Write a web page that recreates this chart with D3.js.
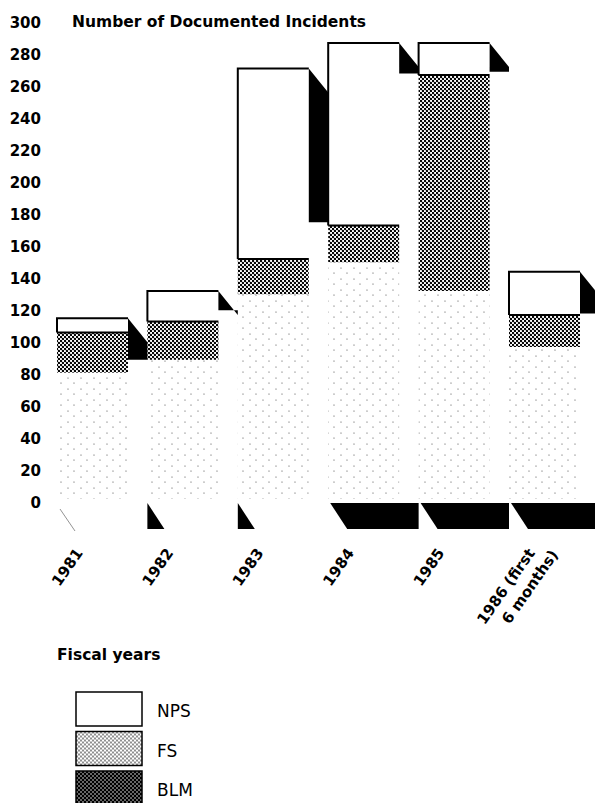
<!DOCTYPE html>
<html>
<head>
<meta charset="utf-8">
<script src="https://cdn.jsdelivr.net/npm/d3@7"></script>
<style>
  body { margin: 0; background: #fff; }
  svg { display: block; }
</style>
</head>
<body>
<div id="chart"></div>
<script>
// values
const years = ["1981", "1982", "1983", "1984", "1985", "1986 (first 6 months)"];
const yearLabels = [["1981"], ["1982"], ["1983"], ["1984"], ["1985"], ["1986 (first", "6 months)"]];
const blm = [79, 87, 128, 148, 130, 95];
const fs  = [25, 24, 22, 23, 135, 20];
const nps = [9, 19, 119, 114, 20, 27];
const sideLow = [87, 118, 173, 266, 267, 116]; // where the black side shading stops
const agencies = ["NPS", "FS", "BLM"];
const yTicks = d3.range(0, 301, 20);

const width = 595, height = 803;
const font = "'DejaVu Sans', sans-serif";

const svg = d3.select("#chart").append("svg")
   .attr("width", width).attr("height", height);

// patterns
const defs = svg.append("defs");
function dotPattern(id, size, bg, dots, r, col) {
   const p = defs.append("pattern").attr("id", id)
      .attr("patternUnits", "userSpaceOnUse").attr("width", size[0]).attr("height", size[1]);
   p.append("rect").attr("width", size[0]).attr("height", size[1]).attr("fill", bg);
   dots.forEach(d => p.append("circle").attr("cx", d[0]).attr("cy", d[1]).attr("r", r).attr("fill", col));
}
dotPattern("band", [4, 4], "#fff", [[1, 1], [3, 3]], 1.2, "#000");
dotPattern("fsLegend", [4, 4], "#fff", [[1, 1], [3, 3]], 0.8, "#000");
dotPattern("blmLegend", [4, 4], "#000", [[1, 1], [3, 3]], 0.75, "#fff");
dotPattern("faded", [13, 11], "#fff", [[3, 4], [9, 9]], 0.6, "#444");

const rows = years.map((yr, i) => ({ year: yr, BLM: blm[i], FS: fs[i], NPS: nps[i], side: sideLow[i], lines: yearLabels[i] }));
const series = d3.stack().keys(["BLM", "FS", "NPS"])(rows);
const fills = { BLM: "url(#faded)", FS: "url(#band)", NPS: "#fff" };

const x = d3.scaleBand().domain(years).range([57, 580]).paddingInner(0.2146).paddingOuter(0);
const y = d3.scaleLinear().domain([0, 300]).range([499, 19]);
const gap = x.step() - x.bandwidth();

// y axis
const yAxis = svg.append("g").attr("transform", "translate(41,0)")
   .call(d3.axisLeft(y).tickValues(yTicks).tickSize(0).tickPadding(0));
yAxis.select(".domain").remove();
yAxis.selectAll("text")
   .attr("dy", 8)
   .style("font-family", font).style("font-weight", "bold").style("font-size", "15px").attr("fill", "#000");

svg.append("text")
   .attr("x", 72).attr("y", 26.5)
   .style("font-family", font).style("font-weight", "bold").style("font-size", "15.5px")
   .text("Number of Documented Incidents");

// stacked bars
svg.append("g").selectAll("g").data(series).join("g")
   .attr("fill", s => fills[s.key])
   .selectAll("rect").data(s => s).join("rect")
   .attr("x", d => x(d.data.year))
   .attr("y", d => y(d[1]))
   .attr("width", x.bandwidth())
   .attr("height", d => y(d[0]) - y(d[1]));

const npsSeg = series[2];
const fsSeg = series[1];

// line over the patterned band
svg.append("g").selectAll("line").data(fsSeg).join("line")
   .attr("x1", d => x(d.data.year)).attr("x2", d => x(d.data.year) + x.bandwidth())
   .attr("y1", d => y(d[1])).attr("y2", d => y(d[1]))
   .attr("stroke", "#000").attr("stroke-width", 2);

// outline of the white NPS box: top and left edges
svg.append("g").selectAll("path").data(npsSeg).join("path")
   .attr("d", d => {
      const x0 = x(d.data.year), x1 = x0 + x.bandwidth();
      return `M${x0},${y(d[0])}V${y(d[1])}H${x1}`;
   })
   .attr("fill", "none").attr("stroke", "#000").attr("stroke-width", 2);

// black side shading at the top right of each bar
svg.append("g").selectAll("path").data(npsSeg).join("path")
   .attr("d", d => {
      const x1 = x(d.data.year) + x.bandwidth();
      const t = y(d[1]), b = y(d.data.side);
      return `M${x1},${t}L${x1 + gap},${t + 24}V${b}H${x1}Z`;
   })
   .attr("fill", "#000");

// black shading under the baseline
const baseShade = { "1981": "line", "1982": "tri", "1983": "tri" };
const baseTop = y(0) + 4, baseBot = y(0) + 30;
svg.append("g").selectAll("path").data(rows).join("path")
   .attr("d", d => {
      const x0 = x(d.year);
      const kind = baseShade[d.year] || "full";
      if (kind === "line") return `M${x0 + 3},${baseTop + 6}L${x0 + 18},${baseBot + 2}`;
      if (kind === "tri") return `M${x0},${baseTop}L${x0 + 17},${baseBot}H${x0}Z`;
      return `M${x0 + 2},${baseTop}H${x0 + x.step()}V${baseBot}H${x0 + 19}Z`;
   })
   .attr("fill", d => (baseShade[d.year] === "line" ? "none" : "#000"))
   .attr("stroke", d => (baseShade[d.year] === "line" ? "#777" : "none"))
   .attr("stroke-width", 0.8);

// rotated year labels
const xl = svg.append("g").selectAll("text").data(rows).join("text")
   .attr("transform", d => `translate(${x(d.year) + x.bandwidth() / 2 - 9},553) rotate(-55)`)
   .attr("text-anchor", "end")
   .style("font-family", font).style("font-weight", "bold").style("font-size", "15px");
xl.selectAll("tspan").data(d => d.lines).join("tspan")
   .attr("x", (t, i) => i * 12)
   .attr("dy", (t, i) => (i === 0 ? 0 : 20))
   .text(t => t);

// legend
svg.append("text")
   .attr("x", 57).attr("y", 660)
   .style("font-family", font).style("font-weight", "bold").style("font-size", "15.5px")
   .text("Fiscal years");

const legendFill = { NPS: "#fff", FS: "url(#fsLegend)", BLM: "url(#blmLegend)" };
const lg = svg.append("g").selectAll("g").data(agencies).join("g")
   .attr("transform", (d, i) => `translate(76,${692 + i * 39.5})`);
lg.append("rect")
   .attr("width", 66).attr("height", 34)
   .attr("fill", d => legendFill[d])
   .attr("stroke", "#000").attr("stroke-width", 1.5);
lg.append("text")
   .attr("x", 81).attr("y", 25)
   .style("font-family", font).style("font-size", "17px")
   .text(d => d);
</script>
</body>
</html>
